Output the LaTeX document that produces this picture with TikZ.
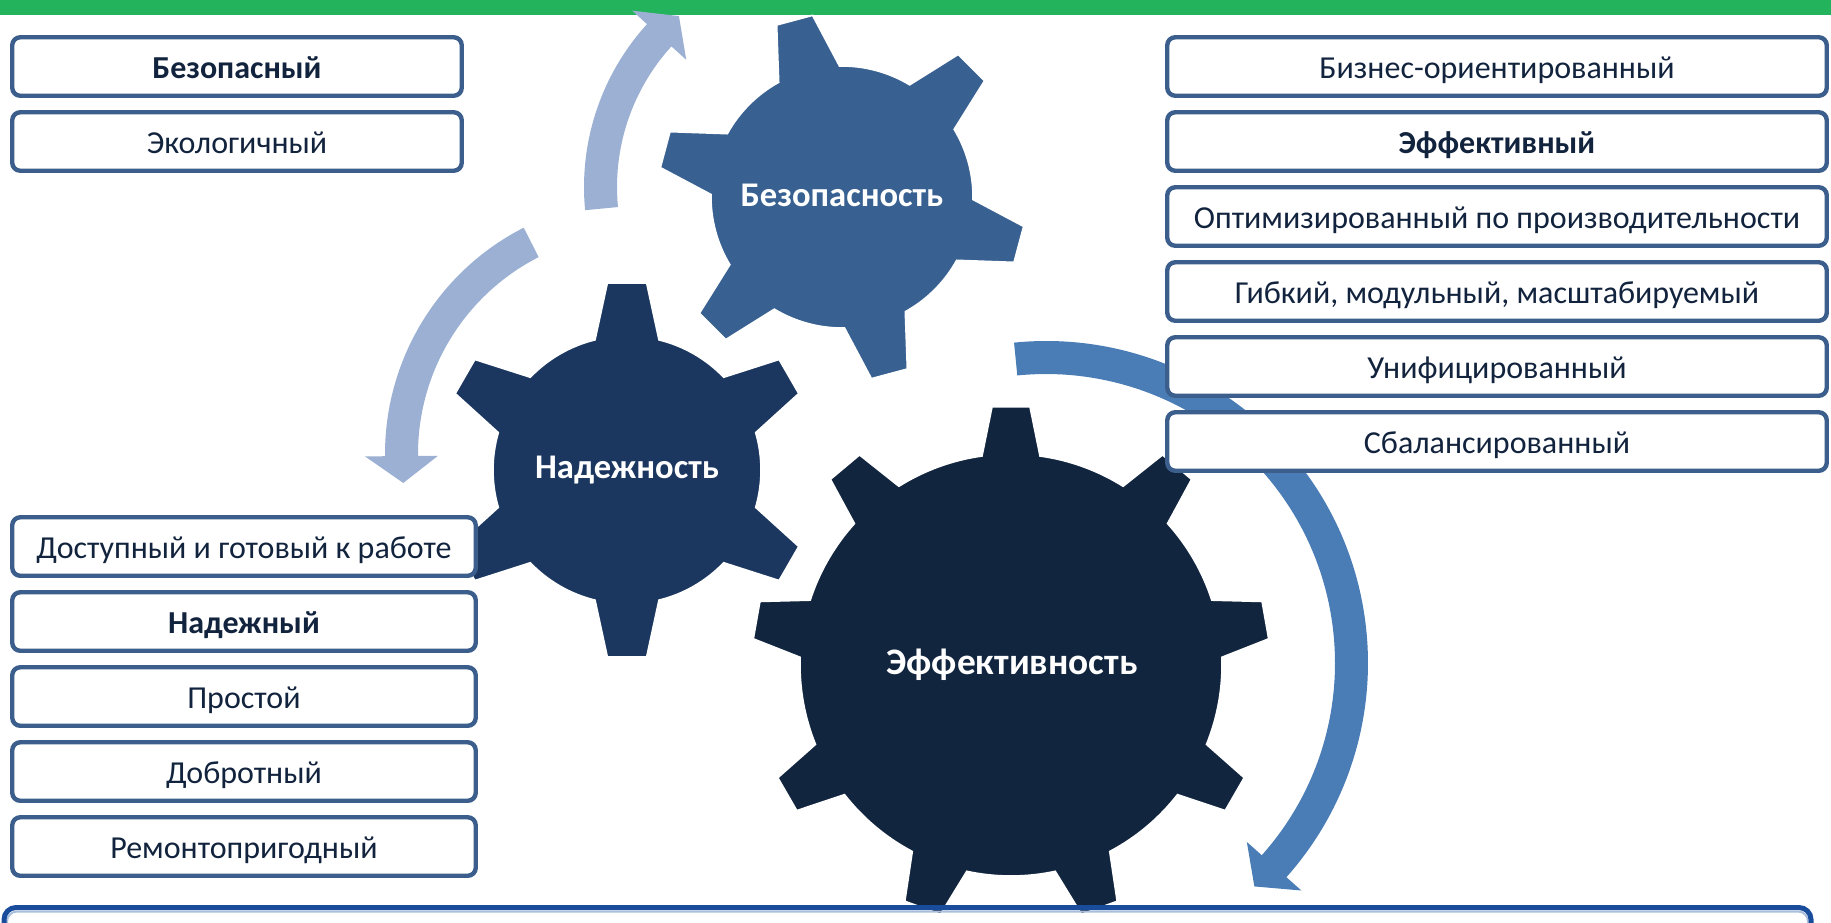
\documentclass[tikz,border=0pt]{standalone}
\usepackage{fontspec}
\setmainfont{Carlito}
\usetikzlibrary{positioning}
\definecolor{BandGreen}{HTML}{22B35C}
\definecolor{GearSteel}{HTML}{386192}
\definecolor{GearNavy}{HTML}{1B375F}
\definecolor{GearInk}{HTML}{12253F}
\definecolor{ArrowPale}{HTML}{9BB0D2}
\definecolor{ArrowMid}{HTML}{4A7CB5}
\definecolor{TagRule}{HTML}{3B5E8C}
\definecolor{TagText}{HTML}{12233D}
\definecolor{FrameBlue}{HTML}{1A4C9C}
\definecolor{FrameLight}{HTML}{A9BEDD}
\newcommand{\drawgear}[8]{% {style}{centre}{first tooth}{teeth}{body r}{tip r}{base half-angle}{tip half-angle}
  \pgfmathsetmacro\gstep{360/#4}
  \pgfmathsetmacro\gnext{#3+\gstep}
  \pgfmathsetmacro\glast{#3+360-\gstep}
  \fill[#1, shift={#2}] ({#3-#7}:#5)
    \foreach \a [evaluate=\a as \sa using \a+#7,
                 evaluate=\a as \ea using \a+\gstep-#7] in {#3,\gnext,...,\glast} {
      -- ({\a-#7}:#5) -- ({\a-#8}:#6) -- ({\a+#8}:#6) -- (\sa:#5)
      arc[start angle=\sa, end angle=\ea, radius=#5]
    } -- cycle;
}
\newcommand{\ringarrow}[7]{% {style}{centre}{inner r}{outer r}{start}{head base}{tip}
  \pgfmathsetmacro\rmid{(#3+#4)/2}
  \pgfmathsetmacro\rwin{#3-20}
  \pgfmathsetmacro\rwout{#4+20}
  \fill[#1, shift={#2}] (#5:#4) arc[start angle=#5, end angle=#6, radius=#4]
    -- (#6:\rwout) -- (#7:\rmid) -- (#6:\rwin) -- (#6:#3)
    arc[start angle=#6, end angle=#5, radius=#3] -- cycle;
}
\begin{document}
\begin{tikzpicture}[x=0.5pt,y=0.5pt,
    tag/.style={draw=TagRule,line width=2.2pt,rounded corners=4pt,fill=white,
                text=TagText,font=\fontsize{16}{19}\selectfont,
                inner sep=0pt,outer sep=0pt,minimum height=29.25pt,
                text height=14pt,text depth=2.3pt},
    tagleft/.style={tag,minimum width=224.75pt},
    taglow/.style={tag,minimum width=231.75pt},
    tagright/.style={tag,minimum width=329.75pt},
    gearlabel/.style={text=white,font=\fontsize{17.3}{20}\selectfont\bfseries,anchor=base},
    gearrim/.style={draw=white,line width=0.8pt}]
    \useasboundingbox (0,0) rectangle (1831,-922);
    \clip (0,0) rectangle (1831,-922);
    \fill[BandGreen] (0,0) rectangle (1831,-15);

    % arrows round the gears
    \ringarrow{ArrowPale}{(826,-187)}{209}{242}{185.5}{137.7}{130.7}
    \ringarrow{ArrowPale}{(639,-454)}{221}{254}{117}{180.5}{187}
    \ringarrow{ArrowMid}{(1046,-663)}{289}{322}{95.7}{-41.7}{-47}

    % gears
    \drawgear{GearSteel,gearrim}{(842,-197)}{45}{6}{131}{184}{13.9}{5.8}
    \drawgear{GearNavy,gearrim}{(627,-470)}{30}{6}{134}{188}{13.8}{6.0}
    \drawgear{GearInk,gearrim}{(1011,-665)}{10}{9}{211}{259}{7.9}{4.2}
    \node[gearlabel] (safety) at (842,-206) {Безопасность};
    \node[gearlabel] (reliability) at (627,-478) {Надежность};
    \node[gearlabel,font=\fontsize{18.7}{22}\selectfont\bfseries] (efficiency) at (1012,-674) {Эффективность};

    % left column
    \node[tagleft] (safe) at (237,-66.5) {\textbf{Безопасный}};
    \node[tagleft,below=8.25pt of safe] (eco) {Экологичный};

    \node[taglow] (ready) at (244,-546.5) {Доступный и готовый к работе};
    \node[taglow,below=8.25pt of ready] (reliable) {\textbf{Надежный}};
    \node[taglow,below=8.25pt of reliable] (simple) {Простой};
    \node[taglow,below=8.25pt of simple] (solid) {Добротный};
    \node[taglow,below=8.25pt of solid] (repair) {Ремонтопригодный};

    % right column
    \node[tagright] (business) at (1497,-66.5) {Бизнес-ориентированный};
    \node[tagright,below=8.25pt of business] (effective) {\textbf{Эффективный}};
    \node[tagright,below=8.25pt of effective] (optimised) {Оптимизированный по производительности};
    \node[tagright,below=8.25pt of optimised] (flexible) {Гибкий, модульный, масштабируемый};
    \node[tagright,below=8.25pt of flexible] (unified) {Унифицированный};
    \node[tagright,below=8.25pt of unified] (balanced) {Сбалансированный};

    % frame along the bottom
    \draw[FrameLight,line width=1pt,rounded corners=5pt] (7,-911.5) rectangle (1808,-1000);
    \draw[FrameBlue,line width=2.5pt,rounded corners=6pt] (4,-907.5) rectangle (1811,-1000);
\end{tikzpicture}
\end{document}
